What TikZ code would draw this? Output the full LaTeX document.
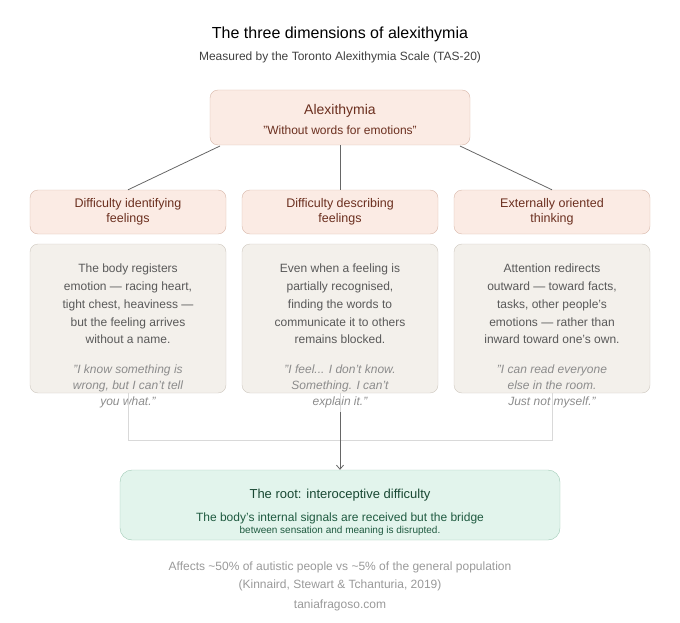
\documentclass[tikz,border=0pt]{standalone}
\usepackage{fontspec}
\setmainfont{Liberation Sans}
\usetikzlibrary{positioning,arrows.meta}
\definecolor{peachfill}{HTML}{FBEBE4}
\definecolor{peachline}{HTML}{D8B8AA}
\definecolor{peachtext}{HTML}{6B2F1F}
\definecolor{greyfill}{HTML}{F3F0EB}
\definecolor{greyline}{HTML}{CEC8BF}
\definecolor{mintfill}{HTML}{E2F4EC}
\definecolor{mintline}{HTML}{9FC9B5}
\definecolor{minttext}{HTML}{1F5A40}
\tikzset{
	headbox/.style={draw=peachline, fill=peachfill, rounded corners=8pt, text=peachtext, minimum width=196pt, minimum height=44pt, align=center, font=\fontsize{12.5}{15.5}\selectfont},
	bodybox/.style={draw=greyline, fill=greyfill, rounded corners=8pt, minimum width=196pt, minimum height=149pt},
	bodytext/.style={text=black!65, align=center, font=\fontsize{12}{17.8}\selectfont},
	quotetext/.style={text=black!45, align=center, font=\fontsize{12}{16}\selectfont\itshape},
	footer/.style={text=black!40, font=\fontsize{12}{15}\selectfont},
	link/.style={draw=black!60, thick},
	bridge/.style={draw=black!15, thick}
}
\begin{document}
\begin{tikzpicture}[x=1pt, y=-1pt]
\useasboundingbox (0,0) rectangle (680,623);
\node (title) at (340,34) {\fontsize{16}{19}\selectfont The three dimensions of alexithymia};
\node[text=black!75] (sub) at (340,57) {\fontsize{12}{15}\selectfont Measured by the Toronto Alexithymia Scale (TAS-20)};

\node[headbox, minimum width=260pt, minimum height=55pt] (top) at (340,117.5) {};
\node[text=peachtext] (topa) at (340,111) {\fontsize{14}{17}\selectfont Alexithymia};
\node[text=peachtext] (topb) at (340,130) {\fontsize{12}{15}\selectfont "Without words for emotions"};

\node[headbox] (h1) at (128,212) {Difficulty identifying\\feelings};
\node[headbox] (h2) at (340,212) {Difficulty describing\\feelings};
\node[headbox] (h3) at (552,212) {Externally oriented\\thinking};

\node[bodybox] (b1) at (128,318.5) {};
\node[bodybox] (b2) at (340,318.5) {};
\node[bodybox] (b3) at (552,318.5) {};

\node[bodytext] (t1) at (128,304) {The body registers\\emotion — racing heart,\\tight chest, heaviness —\\but the feeling arrives\\without a name.};
\node[bodytext] (t2) at (340,304) {Even when a feeling is\\partially recognised,\\finding the words to\\communicate it to others\\remains blocked.};
\node[bodytext] (t3) at (552,304) {Attention redirects\\outward — toward facts,\\tasks, other people's\\emotions — rather than\\inward toward one's own.};

\node[quotetext] (q1) at (128,386) {"I know something is\\wrong, but I can't tell\\you what."};
\node[quotetext] (q2) at (340,386) {"I feel... I don't know.\\Something. I can't\\explain it."};
\node[quotetext] (q3) at (552,386) {"I can read everyone\\else in the room.\\Just not myself."};

\coordinate (tl) at (220,146);
\coordinate (tr) at (460,146);
\draw[link] (tl) -- (h1.north);
\draw[link] (top.south) -- (h2.north);
\draw[link] (tr) -- (h3.north);

\node[draw=mintline, fill=mintfill, rounded corners=12pt, minimum width=440pt, minimum height=70pt] (root) at (340,505) {};
\node[text=minttext!80!black] (roota) at (340,495) {\fontsize{13}{16}\selectfont The root: interoceptive difficulty};
\node[text=minttext, align=center] (rootb) at (340,524) {\fontsize{12}{16}\selectfont The body's internal signals are received but the bridge\\between sensation and meaning is disrupted.};

\coordinate (j1) at (128,440);
\coordinate (j3) at (552,440);
\draw[bridge] (b1.south) -- (j1) -- (j3) -- (b3.south);
\draw[bridge] (b2.south) -- (340,440);
\draw[link, -{Straight Barb[length=4pt,width=7pt]}] (340,412) -- (root.north);

\node[footer] (f1) at (340,567) {Affects \textasciitilde50\% of autistic people vs \textasciitilde5\% of the general population};
\node[footer] (f2) at (340,585) {(Kinnaird, Stewart \& Tchanturia, 2019)};
\node[footer] (f3) at (340,605) {taniafragoso.com};
\end{tikzpicture}
\end{document}
